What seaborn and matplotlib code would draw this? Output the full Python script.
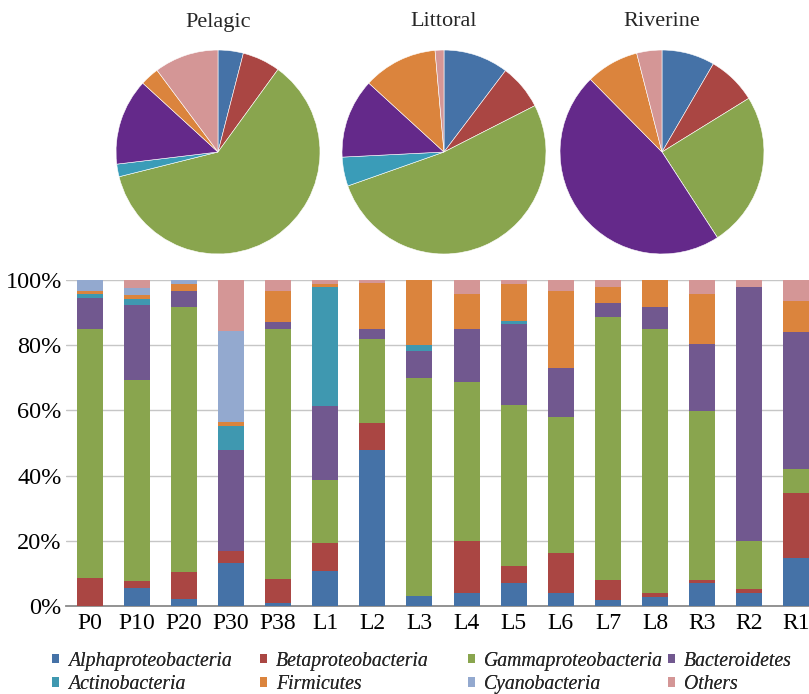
import matplotlib
matplotlib.use("Agg")
import matplotlib.pyplot as plt
from matplotlib.patches import Patch
import numpy as np
import seaborn as sns

# ---- data -------------------------------------------------------------
samples = ["P0", "P10", "P20", "P30", "P38", "L1", "L2", "L3",
           "L4", "L5", "L6", "L7", "L8", "R3", "R2", "R1"]

alphaproteobacteria = [0, 5.4, 2.0, 13.2, 1.0, 10.7, 47.9, 3.0, 4.0, 7.0, 4.0, 1.9, 2.9, 7.1, 4.1, 14.7]
betaproteobacteria = [8.5, 2.2, 8.4, 3.6, 7.3, 8.7, 8.1, 0, 15.9, 5.4, 12.2, 6.0, 1.2, 1.0, 1.0, 20.0]
gammaproteobacteria = [76.5, 61.7, 81.2, 0, 76.8, 19.1, 26.0, 66.9, 48.9, 49.2, 41.7, 80.9, 80.8, 51.8, 14.9, 7.3]
bacteroidetes = [9.5, 23.0, 5.1, 31.2, 2.0, 22.7, 3.0, 8.3, 16.1, 24.9, 15.2, 4.0, 6.9, 20.5, 77.8, 42.1]
actinobacteria = [1.2, 1.8, 0, 7.3, 0, 36.5, 0, 2.0, 0, 1.0, 0, 0, 0, 0, 0, 0]
firmicutes = [0.9, 1.2, 2.0, 1.1, 9.4, 1.1, 14.1, 19.8, 10.9, 11.2, 23.5, 5.0, 8.2, 15.4, 0, 9.5]
cyanobacteria = [3.4, 2.2, 1.2, 27.9, 0, 0, 0, 0, 0, 0, 0, 0, 0, 0, 0, 0]
others = [0, 2.4, 0, 15.7, 3.4, 1.2, 1.0, 0, 4.2, 1.2, 3.4, 2.1, 0, 4.1, 2.2, 6.3]

taxa = ["Alphaproteobacteria", "Betaproteobacteria", "Gammaproteobacteria",
        "Bacteroidetes", "Actinobacteria", "Firmicutes", "Cyanobacteria", "Others"]
bar_series = [alphaproteobacteria, betaproteobacteria, gammaproteobacteria,
              bacteroidetes, actinobacteria, firmicutes, cyanobacteria, others]

# habitat-level composition (pie order, clockwise from 12 o'clock)
pie_titles = ["Pelagic", "Littoral", "Riverine"]
pie_taxa = ["Alphaproteobacteria", "Betaproteobacteria", "Gammaproteobacteria",
            "Actinobacteria", "Bacteroidetes", "Firmicutes", "Others"]
pelagic = [4.0, 6.0, 61.1, 2.0, 13.7, 3.0, 10.2]
littoral = [10.3, 7.2, 52.1, 4.6, 12.6, 11.8, 1.4]
riverine = [8.4, 7.8, 24.7, 0, 46.8, 8.4, 4.0]

# ---- styling ------------------------------------------------------------
bar_colors = {
    "Alphaproteobacteria": "#4572A7",
    "Betaproteobacteria": "#AA4643",
    "Gammaproteobacteria": "#89A54E",
    "Bacteroidetes": "#71588F",
    "Actinobacteria": "#3F98B0",
    "Firmicutes": "#DB843D",
    "Cyanobacteria": "#93A9CF",
    "Others": "#D49696",
}
pie_colors = dict(bar_colors)
pie_colors["Bacteroidetes"] = "#64298A"
pie_colors["Actinobacteria"] = "#3A9CB8"

sns.set_theme(style="white")
plt.rcParams["font.family"] = ["Liberation Serif", "DejaVu Serif"]

W, H = 809, 694
fig = plt.figure(figsize=(W / 100, H / 100), dpi=100)


def px_axes(left, top, width, height):
    return fig.add_axes([left / W, 1 - (top + height) / H, width / W, height / H])


# ---- stacked bars -------------------------------------------------------
ax = px_axes(66, 280, 754, 326)
bottom = np.zeros(len(samples))
for name, vals in zip(taxa, bar_series):
    vals = np.asarray(vals, dtype=float)
    sns.barplot(x=samples, y=vals, bottom=bottom, color=bar_colors[name],
                saturation=1, width=0.55, errorbar=None, edgecolor="none",
                linewidth=0, ax=ax, zorder=3)
    bottom = bottom + vals

ax.set_xlim(-0.5, len(samples) - 0.5)
ax.set_ylim(0, 100)
ax.set_yticks(range(0, 101, 20))
ax.set_yticklabels([f"{v}%" for v in range(0, 101, 20)])
ax.yaxis.grid(True, color="#C6C6C6", linewidth=1.0, zorder=0)
ax.xaxis.grid(False)
ax.set_axisbelow(True)
for side in ("left", "right", "top"):
    ax.spines[side].set_visible(False)
ax.spines["bottom"].set_color("#8A8A8A")
ax.spines["bottom"].set_linewidth(1.3)
ax.tick_params(axis="y", length=0, labelsize=17.5, colors="#000000", pad=3)
ax.tick_params(axis="x", length=0, labelsize=17, colors="#000000", pad=5)
ax.set_xlabel("")
ax.set_ylabel("")

# ---- pies ---------------------------------------------------------------
centers = [218, 444, 662]
radius = 103
for cx, title, vals in zip(centers, pie_titles, [pelagic, littoral, riverine]):
    pax = px_axes(cx - radius, 152 - radius, 2 * radius, 2 * radius)
    pax.pie(vals, colors=[pie_colors[t] for t in pie_taxa], startangle=90,
            counterclock=False, radius=1.0,
            wedgeprops=dict(edgecolor="white", linewidth=0.4))
    pax.set_aspect("equal")
    pax.set_xlim(-1.01, 1.01)
    pax.set_ylim(-1.01, 1.01)
    pax.axis("off")
    fig.text(cx / W, 1 - 22 / H, title, ha="center", va="center", fontsize=16)

# ---- legend: four evenly spaced columns, two rows -----------------------
legend_columns = [
    (52, ["Alphaproteobacteria", "Actinobacteria"]),
    (260, ["Betaproteobacteria", "Firmicutes"]),
    (468, ["Gammaproteobacteria", "Cyanobacteria"]),
    (668, ["Bacteroidetes", "Others"]),
]
for x0, names in legend_columns:
    handles = [Patch(facecolor=bar_colors[n], edgecolor="none", label=n) for n in names]
    leg = fig.legend(handles=handles, ncol=1, loc="center left",
                     bbox_to_anchor=(x0 / W, 1 - 673 / H), frameon=False,
                     prop=dict(family="Liberation Serif", style="italic", size=14.2),
                     handlelength=0.36, handleheight=0.36, handletextpad=0.46,
                     labelspacing=0.22, borderaxespad=0, borderpad=0)
    fig.add_artist(leg)

fig.savefig("out.png", dpi=100)
